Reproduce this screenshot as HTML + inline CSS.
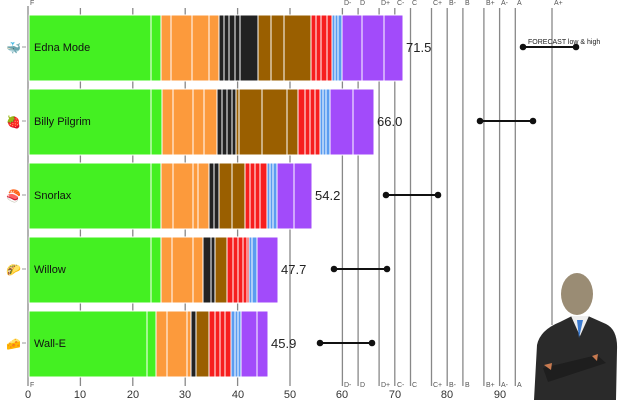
<!DOCTYPE html>
<html><head><meta charset="utf-8"><style>
body{margin:0;background:#fff;width:640px;height:400px;overflow:hidden}
svg{display:block;font-family:"Liberation Sans","DejaVu Sans",sans-serif}
</style></head><body>
<svg width="640" height="400" viewBox="0 0 640 400">
<g stroke="#888" stroke-width="1.3">
<line x1="28" y1="6" x2="28" y2="386"/>
<line x1="80.4" y1="8" x2="80.4" y2="386"/>
<line x1="132.8" y1="8" x2="132.8" y2="386"/>
<line x1="185.2" y1="8" x2="185.2" y2="386"/>
<line x1="237.6" y1="8" x2="237.6" y2="386"/>
<line x1="290" y1="8" x2="290" y2="386"/>
<line x1="342.4" y1="8" x2="342.4" y2="386"/>
<line x1="358.1" y1="8" x2="358.1" y2="386"/>
<line x1="379.1" y1="8" x2="379.1" y2="386"/>
<line x1="394.8" y1="8" x2="394.8" y2="386"/>
<line x1="410.5" y1="8" x2="410.5" y2="386"/>
<line x1="431.5" y1="8" x2="431.5" y2="386"/>
<line x1="447.2" y1="8" x2="447.2" y2="386"/>
<line x1="462.9" y1="8" x2="462.9" y2="386"/>
<line x1="483.9" y1="8" x2="483.9" y2="386"/>
<line x1="499.6" y1="8" x2="499.6" y2="386"/>
<line x1="515.3" y1="8" x2="515.3" y2="386"/>
<line x1="552" y1="8" x2="552" y2="325"/>
</g>
<g font-size="7" fill="#555">
<text x="30" y="5">F</text><text x="30" y="387">F</text>
<text x="344" y="5">D-</text><text x="360" y="5">D</text><text x="381" y="5">D+</text><text x="397" y="5">C-</text><text x="412" y="5">C</text><text x="433" y="5">C+</text><text x="449" y="5">B-</text><text x="465" y="5">B</text><text x="486" y="5">B+</text><text x="501" y="5">A-</text><text x="517" y="5">A</text><text x="554" y="5">A+</text>
<text x="344" y="387">D-</text><text x="360" y="387">D</text><text x="381" y="387">D+</text><text x="397" y="387">C-</text><text x="412" y="387">C</text><text x="433" y="387">C+</text><text x="449" y="387">B-</text><text x="465" y="387">B</text><text x="486" y="387">B+</text><text x="501" y="387">A-</text><text x="517" y="387">A</text>
</g>
<g font-size="11" fill="#333" text-anchor="middle">
<text x="28" y="398">0</text><text x="80" y="398">10</text><text x="133" y="398">20</text><text x="185" y="398">30</text><text x="238" y="398">40</text><text x="290" y="398">50</text><text x="342" y="398">60</text><text x="395" y="398">70</text><text x="447" y="398">80</text><text x="500" y="398">90</text><text x="604" y="398">110</text>
</g>
<g stroke="#fff" stroke-width="1">
<rect x="29" y="15" width="132" height="66" fill="#44f022"/>
<rect x="161" y="15" width="58" height="66" fill="#fc9a3c"/>
<rect x="219" y="15" width="39" height="66" fill="#222"/>
<rect x="258" y="15" width="53" height="66" fill="#9a5f00"/>
<rect x="311" y="15" width="21" height="66" fill="#f71e1e"/>
<rect x="332" y="15" width="10" height="66" fill="#5b9cf0"/>
<rect x="342" y="15" width="61" height="66" fill="#a24bfa"/>
<path d="M151 15v66M171 15v66M192 15v66M209 15v66M224 15v66M229 15v66M235 15v66M240 15v66M271 15v66M284 15v66M316 15v66M321 15v66M327 15v66M335 15v66M338 15v66M362 15v66M384 15v66"/>
<rect x="29" y="89" width="133" height="66" fill="#44f022"/>
<rect x="162" y="89" width="55" height="66" fill="#fc9a3c"/>
<rect x="217" y="89" width="19" height="66" fill="#222"/>
<rect x="236" y="89" width="62" height="66" fill="#9a5f00"/>
<rect x="298" y="89" width="22" height="66" fill="#f71e1e"/>
<rect x="320" y="89" width="10" height="66" fill="#5b9cf0"/>
<rect x="330" y="89" width="44" height="66" fill="#a24bfa"/>
<path d="M151 89v66M173 89v66M193 89v66M204 89v66M222 89v66M227 89v66M232 89v66M239 89v66M262 89v66M287 89v66M305 89v66M310 89v66M315 89v66M323 89v66M326 89v66M353 89v66"/>
<rect x="29" y="163" width="132" height="66" fill="#44f022"/>
<rect x="161" y="163" width="48" height="66" fill="#fc9a3c"/>
<rect x="209" y="163" width="10" height="66" fill="#222"/>
<rect x="219" y="163" width="26" height="66" fill="#9a5f00"/>
<rect x="245" y="163" width="22" height="66" fill="#f71e1e"/>
<rect x="267" y="163" width="10" height="66" fill="#5b9cf0"/>
<rect x="277" y="163" width="35" height="66" fill="#a24bfa"/>
<path d="M151 163v66M173 163v66M193 163v66M198 163v66M214 163v66M232 163v66M250 163v66M255 163v66M260 163v66M270 163v66M273 163v66M294 163v66"/>
<rect x="29" y="237" width="132" height="66" fill="#44f022"/>
<rect x="161" y="237" width="42" height="66" fill="#fc9a3c"/>
<rect x="203" y="237" width="12" height="66" fill="#222"/>
<rect x="215" y="237" width="12" height="66" fill="#9a5f00"/>
<rect x="227" y="237" width="22" height="66" fill="#f71e1e"/>
<rect x="249" y="237" width="8" height="66" fill="#5b9cf0"/>
<rect x="257" y="237" width="21" height="66" fill="#a24bfa"/>
<path d="M151 237v66M172 237v66M193 237v66M211 237v66M233 237v66M238 237v66M243 237v66M247 237v66M252 237v66"/>
<rect x="29" y="311" width="127" height="66" fill="#44f022"/>
<rect x="156" y="311" width="35" height="66" fill="#fc9a3c"/>
<rect x="191" y="311" width="5" height="66" fill="#222"/>
<rect x="196" y="311" width="13" height="66" fill="#9a5f00"/>
<rect x="209" y="311" width="22" height="66" fill="#f71e1e"/>
<rect x="231" y="311" width="10" height="66" fill="#5b9cf0"/>
<rect x="241" y="311" width="27" height="66" fill="#a24bfa"/>
<path d="M147 311v66M167 311v66M187 311v66M215 311v66M220 311v66M225 311v66M235 311v66M238 311v66M257 311v66"/>
</g>
<g font-size="11" fill="#111">
<text x="34" y="51">Edna Mode</text><text x="34" y="125">Billy Pilgrim</text><text x="34" y="199">Snorlax</text><text x="34" y="273">Willow</text><text x="34" y="347">Wall-E</text>
</g>
<g font-size="13" fill="#222">
<text x="406" y="52">71.5</text><text x="377" y="126">66.0</text><text x="315" y="200">54.2</text><text x="281" y="274">47.7</text><text x="271" y="348">45.9</text>
</g>
<g font-size="12" fill="#555">
<text x="6" y="52">🐳</text><text x="6" y="126">🍓</text><text x="6" y="200">🍣</text><text x="6" y="274">🌮</text><text x="6" y="348">🧀</text>
</g>
<g stroke="#999"><path d="M22 47h4M22 121h4M22 195h4M22 269h4M22 343h4"/></g>
<text x="528" y="44" font-size="7" fill="#222">FORECAST low &amp; high</text>
<g stroke="#111" stroke-width="2" fill="#111">
<line x1="523" y1="47" x2="576" y2="47"/><circle cx="523" cy="47" r="2.3"/><circle cx="576" cy="47" r="2.3"/>
<line x1="480" y1="121" x2="533" y2="121"/><circle cx="480" cy="121" r="2.3"/><circle cx="533" cy="121" r="2.3"/>
<line x1="386" y1="195" x2="438" y2="195"/><circle cx="386" cy="195" r="2.3"/><circle cx="438" cy="195" r="2.3"/>
<line x1="334" y1="269" x2="387" y2="269"/><circle cx="334" cy="269" r="2.3"/><circle cx="387" cy="269" r="2.3"/>
<line x1="320" y1="343" x2="372" y2="343"/><circle cx="320" cy="343" r="2.3"/><circle cx="372" cy="343" r="2.3"/>
</g>
<path d="M537 345 Q540 330 560 322 L572 316 L588 316 L606 324 Q618 330 617 350 L616 400 L534 400 Z" fill="#2a2a2a"/>
<path d="M571 316 L589 316 L580 336 Z" fill="#eee"/>
<path d="M577 320 L583 320 L579 338 Z" fill="#3a7ad0"/>
<ellipse cx="577" cy="294" rx="16" ry="21" fill="#9a8c74"/>
<path d="M543 368 L597 355 L606 363 L548 382 Z" fill="#1e1e1e"/>
<path d="M544 365 L552 363 L551 370 Z M592 356 L598 354 L597 361 Z" fill="#c87a50"/>
</svg>
</body></html>
